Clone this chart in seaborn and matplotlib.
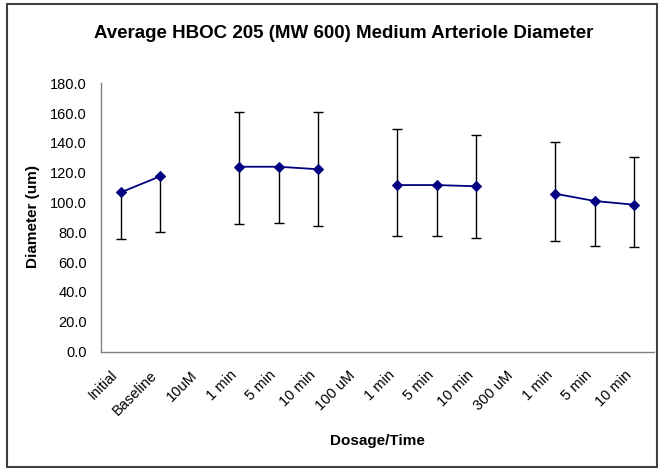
import numpy as np
import pandas as pd
import matplotlib
matplotlib.use("Agg")
import matplotlib.pyplot as plt
from matplotlib.patches import Rectangle
from matplotlib.transforms import ScaledTranslation
import seaborn as sns

categories = ["Initial", "Baseline", "10uM", "1 min", "5 min", "10 min", "100 uM",
              "1 min", "5 min", "10 min", "300 uM", "1 min", "5 min", "10 min"]
diameter = [106.8, 117.6, np.nan, 124.0, 124.0, 122.3, np.nan,
            111.7, 111.7, 110.9, np.nan, 105.9, 101.0, 98.5]
err_low = [31.3, 37.2, np.nan, 38.4, 37.8, 38.3, np.nan,
           34.2, 34.2, 34.5, np.nan, 31.7, 30.2, 28.6]
err_high = [0.0, 0.0, np.nan, 36.5, 0.0, 38.2, np.nan,
            37.6, 0.0, 34.2, np.nan, 34.5, 0.0, 32.0]
segment = [0, 0, -1, 1, 1, 1, -1, 2, 2, 2, -1, 3, 3, 3]

sns.set_theme(style="white")
plt.rcParams["font.family"] = ["Liberation Sans", "DejaVu Sans"]
plt.rcParams["text.color"] = "black"
plt.rcParams["axes.labelcolor"] = "black"

df = pd.DataFrame({"pos": np.arange(len(categories)), "diameter": diameter,
                   "lo": err_low, "hi": err_high, "segment": segment})
pts = df.dropna(subset=["diameter"])

fig = plt.figure(figsize=(6.58, 4.68), dpi=100)
ax = fig.add_axes([101 / 658, 1 - 351.5 / 468, 553 / 658, (351.5 - 83.3) / 468])

# error bars first so the markers sit on top
ax.errorbar(pts["pos"], pts["diameter"], yerr=[pts["lo"], pts["hi"]], fmt="none",
            ecolor="black", elinewidth=1.0, capsize=3.5, capthick=1.0, zorder=2)

sns.lineplot(data=pts, x="pos", y="diameter", units="segment", estimator=None,
             color="#000080", marker="D", markersize=5.5, markeredgecolor="#000080",
             linewidth=1.3, ax=ax, zorder=3, legend=False)

ax.set_xlim(-0.5, len(categories) - 0.5)
ax.set_ylim(0, 180)
ax.set_yticks(np.arange(0, 181, 20))
ax.set_yticklabels([f"{v:.1f}" for v in np.arange(0, 181, 20)], fontsize=10.5)

ax.set_xticks(np.arange(len(categories)))
ax.set_xticklabels(categories, rotation=45, ha="right", va="top",
                   rotation_mode="anchor", fontsize=10.5)
ax.set_xticks(np.arange(len(categories) + 1) - 0.5, minor=True)
ax.tick_params(axis="x", which="major", length=0, pad=12)
ax.tick_params(axis="x", which="minor", length=4, width=1, color="#808080", direction="out")
ax.tick_params(axis="y", length=5, width=1, color="#808080", direction="out", pad=5)
ax.tick_params(axis="both", labelcolor="black")

# nudge the slanted category labels left so they end just before each point
shift = ScaledTranslation(-10 / 100, 0, fig.dpi_scale_trans)
for lbl in ax.get_xticklabels():
    lbl.set_transform(lbl.get_transform() + shift)

for side in ["top", "right"]:
    ax.spines[side].set_visible(False)
for side in ["left", "bottom"]:
    ax.spines[side].set_color("#808080")
    ax.spines[side].set_linewidth(1.0)

ax.set_xlabel("Dosage/Time", fontsize=11, fontweight="bold")
ax.xaxis.set_label_coords(0.5, -(441 - 351.5) / 268.2)
ax.xaxis.label.set_va("center")
ax.set_ylabel("Diameter (um)", fontsize=11, fontweight="bold")
ax.yaxis.set_label_coords((33 - 101) / 553, (351.5 - 216) / 268.2)
ax.yaxis.label.set_va("center")
ax.grid(False)

fig.text(344 / 658, 1 - 33 / 468, "Average HBOC 205 (MW 600) Medium Arteriole Diameter",
         ha="center", va="center", fontsize=13.5, fontweight="bold")

fig.patches.append(Rectangle((7 / 658, 1 / 468), 650 / 658, 463 / 468,
                             transform=fig.transFigure, fill=False,
                             edgecolor="#404040", linewidth=1.5))

fig.savefig("out.png", dpi=100)
